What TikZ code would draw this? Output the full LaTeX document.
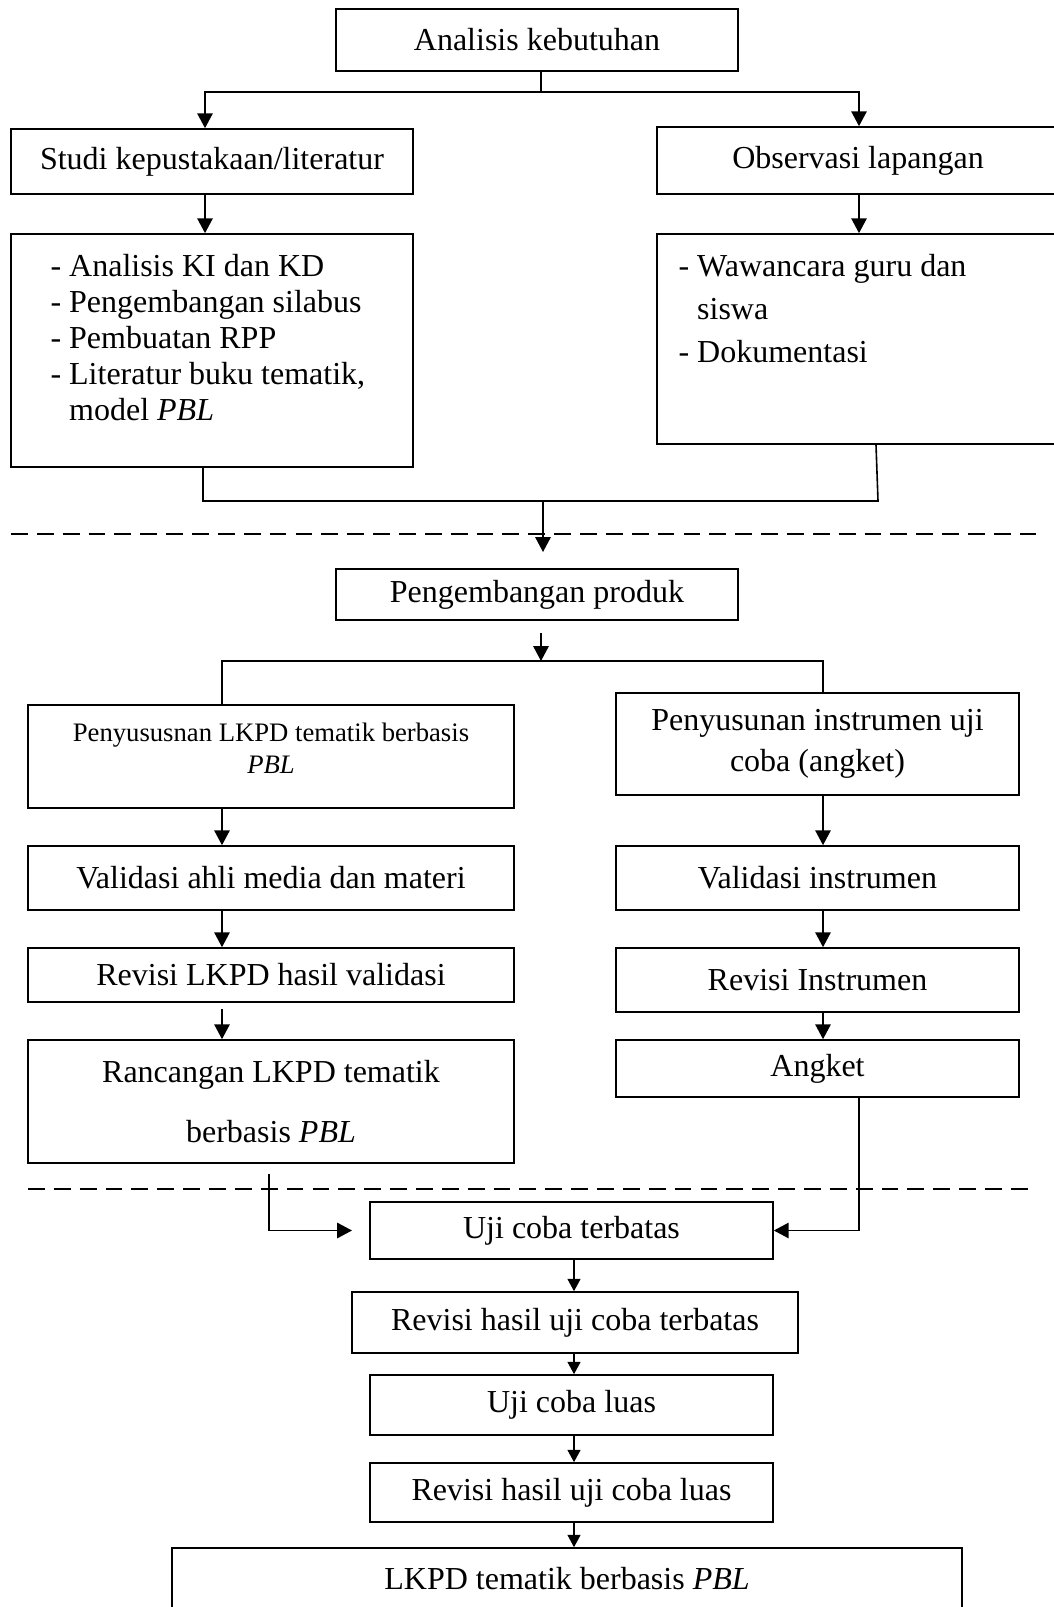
\documentclass[tikz,border=0pt]{standalone}
\usepackage{fontspec}
\setmainfont{Liberation Serif}
\usetikzlibrary{arrows.meta}
\begin{document}
\begin{tikzpicture}[x=0.375pt,y=-0.375pt,
  box/.style={draw, line width=0.6pt, inner sep=0pt, align=center, font=\fontsize{12}{14}\selectfont},
  wh/.style 2 args={minimum width=#1*0.375pt, minimum height=#2*0.375pt},
  txt/.style={inner sep=0pt, align=left},
  arr/.style={line width=0.6pt, -{Triangle[width=5.8pt,length=5.6pt]}},
  sarr/.style={line width=0.6pt, -{Triangle[width=4.8pt,length=4.6pt]}},
  ln/.style={line width=0.6pt},
  sep/.style={line width=0.8pt, dash pattern=on 6.3pt off 3.4pt}]
\useasboundingbox (0,0) rectangle (1054,1607);
\clip (0,0) rectangle (1054,1607);

% boxes
\node[box, wh={402}{62}] (ana) at (537,40) {Analisis kebutuhan};
\node[box, wh={402}{65}] (studi) at (212,161.5) {Studi kepustakaan/literatur};
\node[box, wh={402}{67}] (obs) at (858,160.5) {Observasi lapangan};
\node[box, wh={402}{233}] (litbox) at (212,350.5) {};
\node[txt, anchor=north west, font=\fontsize{12}{13.5}\selectfont] (littxt) at (50,254)
  {- Analisis KI dan KD\\- Pengembangan silabus\\- Pembuatan RPP\\- Literatur buku tematik,\\\hphantom{- }model \textit{PBL}};
\node[box, wh={402}{210}] (obsbox) at (858,339) {};
\node[txt, anchor=north west, font=\fontsize{12}{16.1}\selectfont] (obstxt) at (678,254)
  {- Wawancara guru dan\\\hphantom{- }siswa\\- Dokumentasi};

\node[box, wh={402}{51}] (peng) at (537,594.5) {Pengembangan produk};
\node[box, wh={486}{103}, font=\fontsize{10}{12}\selectfont] (penyl) at (271,756.5)
  {Penyususnan LKPD tematik berbasis\\\textit{PBL}\\[-5.6pt]\mbox{}};
\node[box, wh={403}{102}, font=\fontsize{12}{15.4}\selectfont] (penyr) at (817.5,744)
  {Penyusunan instrumen uji\\coba (angket)};
\node[box, wh={486}{64}] (vall) at (271,878) {Validasi ahli media dan materi};
\node[box, wh={403}{64}] (valr) at (817.5,878) {Validasi instrumen};
\node[box, wh={486}{54}] (revl) at (271,975) {Revisi LKPD hasil validasi};
\node[box, wh={403}{64}] (revr) at (817.5,980) {Revisi Instrumen};
\node[box, wh={486}{123}, font=\fontsize{12}{22.5}\selectfont] (ranc) at (271,1101.5)
  {Rancangan LKPD tematik\\berbasis \textit{PBL}};
\node[box, wh={403}{57}] (angk) at (817.5,1068.5) {Angket};
\node[box, wh={403}{57}] (ujit) at (571.5,1230.5) {Uji coba terbatas};
\node[box, wh={446}{61}] (revt) at (575,1322.5) {Revisi hasil uji coba terbatas};
\node[box, wh={403}{60}] (ujil) at (571.5,1405) {Uji coba luas};
\node[box, wh={403}{59}] (revlu) at (571.5,1492.5) {Revisi hasil uji coba luas};
\node[box, wh={790}{62}] (lkpd) at (567,1579) {LKPD tematik berbasis \textit{PBL}};

% separators
\draw[sep] (11,534) -- (1036,534);
\draw[sep] (28,1189) -- (1036,1189);

% helper coordinates
\coordinate (xL) at (205,0);
\coordinate (xR) at (859,0);
\coordinate (j1) at (541,92);
\coordinate (j2) at (543,501);
\coordinate (a2) at (543,552);
\coordinate (s3) at (541,633);
\coordinate (j3) at (541,661);
\coordinate (xl2) at (222,0);
\coordinate (xr2) at (823,0);
\coordinate (xB) at (574,0);
\coordinate (s4) at (269,1174);
\coordinate (e4) at (352,1230.5);

% top part
\draw[ln] (j1 |- ana.south) -- (j1);
\draw[arr] (j1) -| (xL |- studi.north);
\draw[arr] (j1) -| (xR |- obs.north);
\draw[arr] (xL |- studi.south) -- (xL |- litbox.north);
\draw[arr] (xR |- obs.south) -- (xR |- obsbox.north);
\draw[ln] (203,0 |- litbox.south) -- (203,501) -- (878,501) -- (876,0 |- obsbox.south);
\draw[arr] (j2) -- (a2);

% middle part
\draw[arr] (s3) -- (j3);
\draw[ln] (xl2 |- penyl.north) -- (xl2 |- j3) -- (xr2 |- j3) -- (xr2 |- penyr.north);
\draw[arr] (xl2 |- penyl.south) -- (xl2 |- vall.north);
\draw[arr] (xl2 |- vall.south) -- (xl2 |- revl.north);
\draw[arr] (xl2 |- revl.south) ++(0,6) -- (xl2 |- ranc.north);
\draw[arr] (xr2 |- penyr.south) -- (xr2 |- valr.north);
\draw[arr] (xr2 |- valr.south) -- (xr2 |- revr.north);
\draw[arr] (xr2 |- revr.south) -- (xr2 |- angk.north);

% bottom part
\draw[arr] (s4) |- (e4);
\draw[arr] (xR |- angk.south) |- (ujit.east);
\draw[sarr] (xB |- ujit.south) -- (xB |- revt.north);
\draw[sarr] (xB |- revt.south) -- (xB |- ujil.north);
\draw[sarr] (xB |- ujil.south) -- (xB |- revlu.north);
\draw[sarr] (xB |- revlu.south) -- (xB |- lkpd.north);
\end{tikzpicture}
\end{document}
